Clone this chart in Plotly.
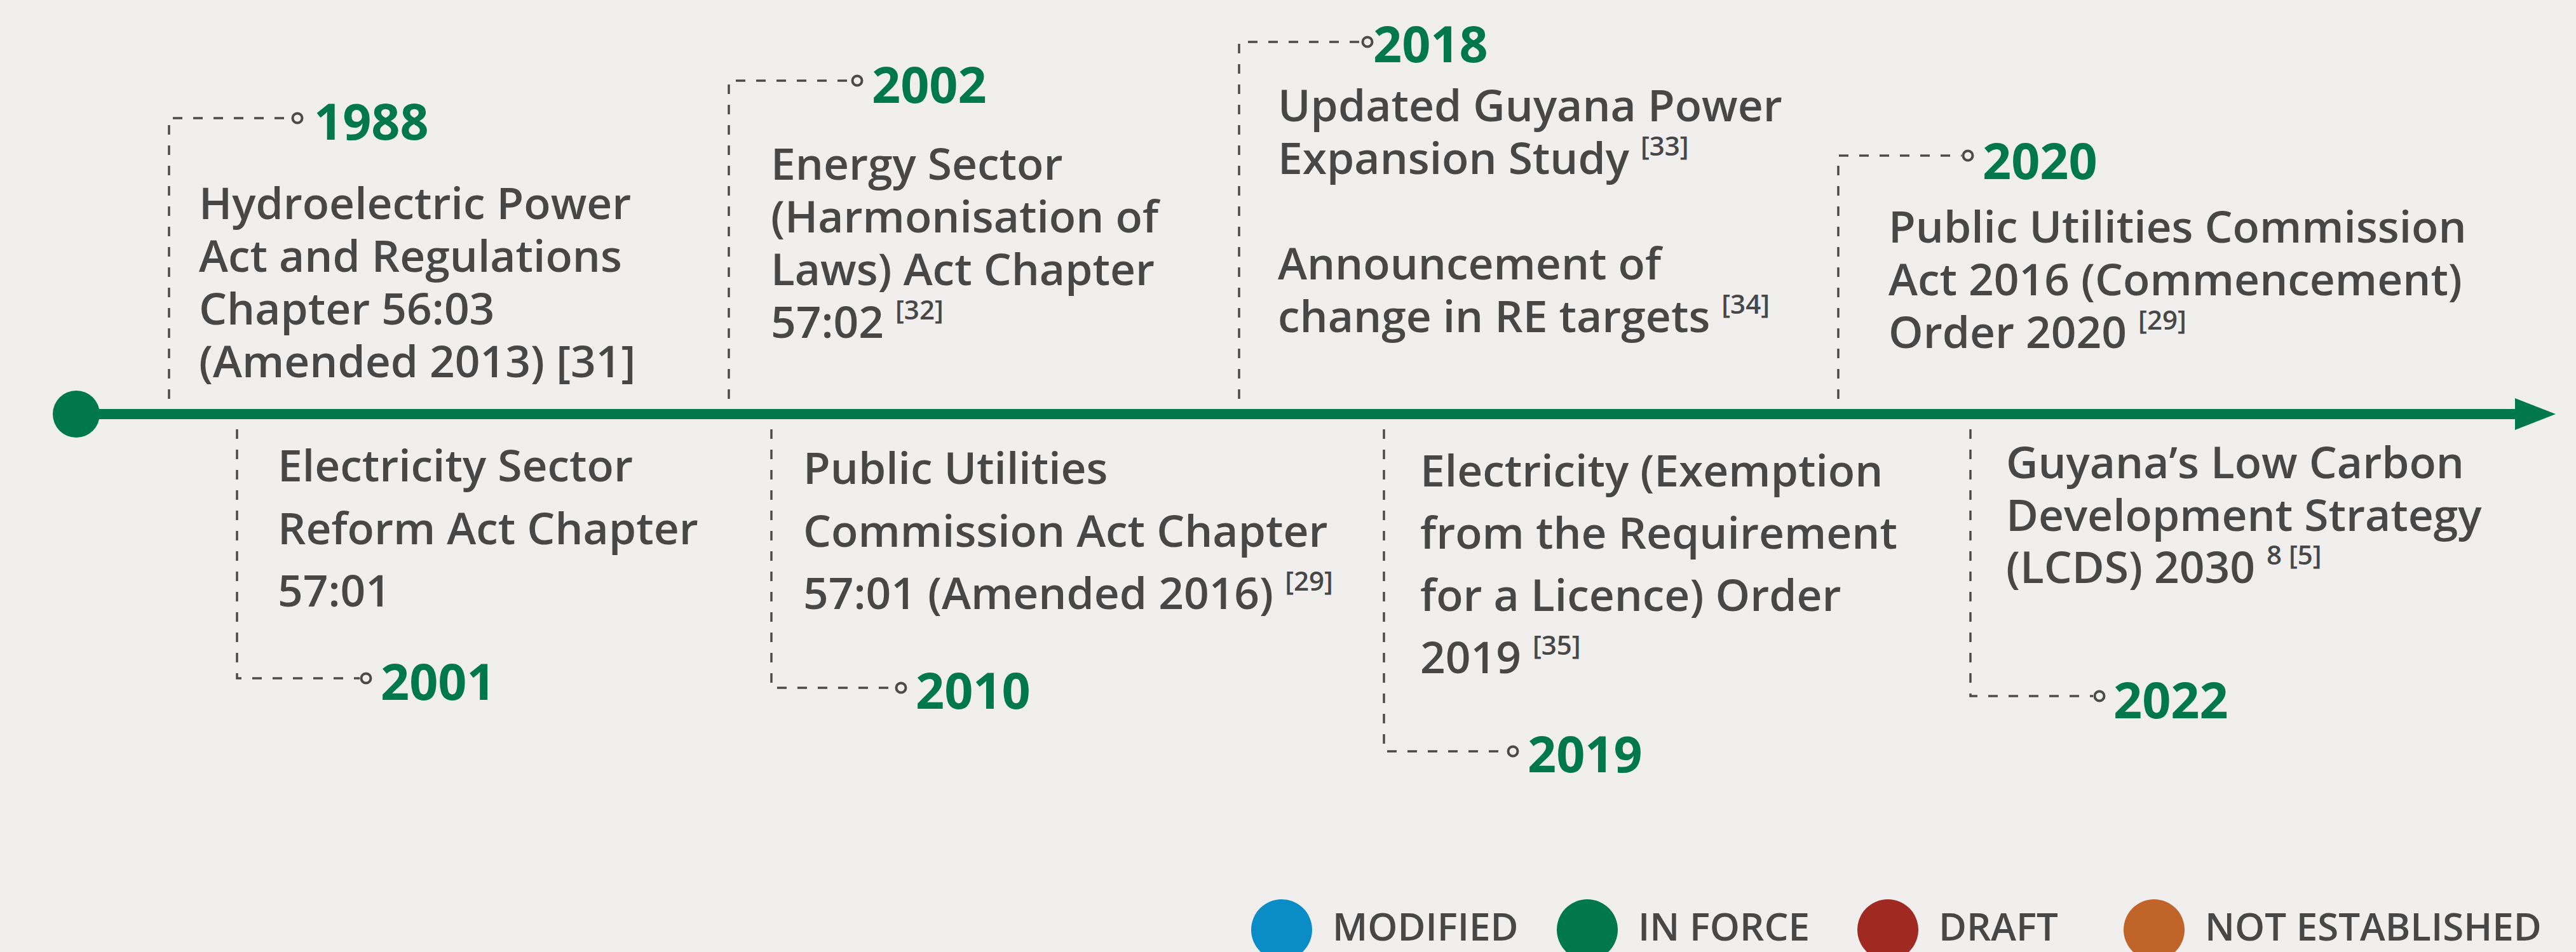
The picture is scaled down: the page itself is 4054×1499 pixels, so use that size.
import plotly.graph_objects as go

# Timeline data
years = [1988, 2001, 2002, 2010, 2018, 2019, 2020, 2022]
sides = ["above", "below", "above", "below", "above", "below", "above", "below"]
SUP = "<sup><span style='font-size:42px'>{}</span></sup>"
descriptions = [
    ["Hydroelectric Power", "Act and Regulations", "Chapter 56:03", "(Amended 2013) [31]"],
    ["Electricity Sector", "Reform Act Chapter", "57:01"],
    ["Energy Sector", "(Harmonisation of", "Laws) Act Chapter", "57:02 " + SUP.format("[32]")],
    ["Public Utilities", "Commission Act Chapter", "57:01 (Amended 2016) " + SUP.format("[29]")],
    ["Updated Guyana Power", "Expansion Study " + SUP.format("[33]"), "",
     "Announcement of", "change in RE targets " + SUP.format("[34]")],
    ["Electricity (Exemption", "from the Requirement", "for a Licence) Order", "2019 " + SUP.format("[35]")],
    ["Public Utilities Commission", "Act 2016 (Commencement)", "Order 2020 " + SUP.format("[29]")],
    ["Guyana\u2019s Low Carbon", "Development Strategy", "(LCDS) 2030 " + SUP.format("8 [5]")],
]
status_labels = ["MODIFIED", "IN FORCE", "DRAFT", "NOT ESTABLISHED"]
status_colors = ["#0a8cc6", "#00784b", "#a02a21", "#c06429"]

# Layout (pixel positions on a 4054 x 1499 canvas)
W, H = 4054, 1499
axis_y = 652
axis_x0, arrow_x0, arrow_x1 = 120, 3958, 4022
stem_x = [266, 373, 1147, 1214, 1950, 2178, 2893, 3101]
link_y = [186, 1068, 127, 1083, 66, 1183, 245, 1096]
dot_x = [468, 576, 1349, 1418, 2152, 2381, 3097, 3304]
year_x = [492, 597, 1370, 1439, 2159, 2402, 3118, 3324]
year_y = [189, 1071, 131, 1085, 67, 1185, 251, 1100]
text_x = [311, 435, 1211, 1262, 2009, 2233, 2970, 3155]
text_base0 = [345, 758, 283, 762, 191, 766, 382, 753]
text_pitch = [83, 98.5, 83, 98.5, 83, 98, 83, 82.5]
legend_x = [2017, 2498, 2971, 3390]
legend_y = 1464

GREEN = "#00784b"
GREY = "#474747"
DASH = "#4b4b4b"
FONT = "Open Sans"

fig = go.Figure()

# main axis line and arrow head
fig.add_shape(type="line", x0=axis_x0, x1=arrow_x0 + 2, y0=axis_y, y1=axis_y,
              line=dict(color=GREEN, width=16), layer="below")
fig.add_shape(type="path",
              path=f"M {arrow_x0},{axis_y - 25} L {arrow_x1},{axis_y} L {arrow_x0},{axis_y + 25} Z",
              fillcolor=GREEN, line=dict(width=0))
fig.add_trace(go.Scatter(x=[axis_x0], y=[axis_y], mode="markers",
                         marker=dict(size=74, color=GREEN), hoverinfo="skip"))

annotations = []
for i, yr in enumerate(years):
    start = axis_y - 24 if sides[i] == "above" else axis_y + 24
    fig.add_shape(type="path",
                  path=f"M {stem_x[i]},{start} L {stem_x[i]},{link_y[i]} L {dot_x[i] - 10},{link_y[i]}",
                  line=dict(color=DASH, width=3.5, dash="15px,17px"))
    annotations.append(dict(x=year_x[i], y=year_y[i], text=f"<b>{yr}</b>",
                            xanchor="left", yanchor="middle", showarrow=False,
                            font=dict(family=FONT, size=79, color=GREEN)))
    for j, line in enumerate(descriptions[i]):
        if not line:
            continue
        base = text_base0[i] + j * text_pitch[i]
        annotations.append(dict(x=text_x[i], y=base + 22, text=line,
                                xanchor="left", yanchor="bottom", showarrow=False,
                                font=dict(family=FONT, size=69.5, color=GREY, weight=600)))

fig.add_trace(go.Scatter(x=dot_x, y=link_y, mode="markers",
                         marker=dict(symbol="circle-open", size=15, color=DASH,
                                     line=dict(width=4, color=DASH)),
                         hoverinfo="skip"))

# legend
fig.add_trace(go.Scatter(x=legend_x, y=[legend_y] * 4, mode="markers",
                         marker=dict(size=96, color=status_colors), hoverinfo="skip"))
for lx, lab in zip(legend_x, status_labels):
    annotations.append(dict(x=lx + 78, y=legend_y - 6, text=lab,
                            xanchor="left", yanchor="middle", showarrow=False,
                            font=dict(family=FONT, size=60, color=GREY, weight=600)))

fig.update_layout(
    width=W, height=H,
    margin=dict(l=0, r=0, t=0, b=0),
    paper_bgcolor="#f0efed", plot_bgcolor="#f0efed",
    showlegend=False,
    xaxis=dict(range=[0, W], visible=False, fixedrange=True),
    yaxis=dict(range=[H, 0], visible=False, fixedrange=True),
    annotations=annotations,
)

fig.write_html("out.html", config={"displayModeBar": False},
               post_script="document.body.style.margin = '0';")
